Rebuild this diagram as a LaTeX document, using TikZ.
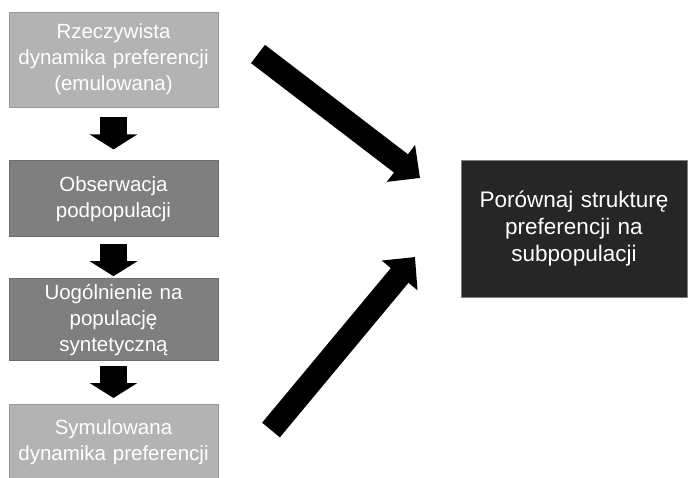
\documentclass[tikz,border=0pt]{standalone}
\usepackage{fontspec}
\setmainfont{Liberation Sans}
\usetikzlibrary{arrows.meta, positioning}
\definecolor{lightgr}{HTML}{B3B3B3}
\definecolor{midgr}{HTML}{7F7F7F}
\definecolor{darkgr}{HTML}{262626}

\begin{document}
\begin{tikzpicture}[x=1pt, y=-1pt,
        block/.style={rectangle, draw, align=center, text=white, inner sep=0pt, line width=0.8pt,
            font=\fontsize{20.5}{26}\selectfont},
        lightblock/.style={block, fill=lightgr, draw=lightgr!85!black, minimum width=209pt, text width=205pt},
        darkblock/.style={block, fill=midgr, draw=midgr!85!black, minimum width=209pt, text width=205pt},
        resblock/.style={block, fill=darkgr, draw=midgr, minimum width=226pt, minimum height=137pt, text width=222pt,
            font=\fontsize{22.5}{27}\selectfont},
        arrow/.style={line width=27pt, -{Triangle[width=47pt, length=15pt]}},
        bigarrow/.style={line width=23pt, -{Triangle[width=45pt, length=24pt]}}]

        \useasboundingbox (0,0) rectangle (688,478);

        % Left column
        \node[lightblock, minimum height=95pt] (real) at (113.5,59.5) {Rzeczywista\\dynamika preferencji\\(emulowana)};
        \node[darkblock, minimum height=76pt, below=53pt of real] (observe) {Obserwacja\\podpopulacji};
        \node[darkblock, minimum height=82pt, below=41pt of observe] (general) {Uogólnienie na\\populację\\syntetyczną};
        \node[lightblock, minimum height=75pt, below=43pt of general] (simul) {Symulowana\\dynamika preferencji};

        % Comparison
        \node[resblock] (compare) at (574,228.5) {Porównaj strukturę\\preferencji na\\subpopulacji};

        % Ends of the big arrows
        \coordinate (realtail) at (258,54);
        \coordinate (realtip) at (420,178);
        \coordinate (simtail) at (271,430);
        \coordinate (simtip) at (415,257);

        % Arrows
        \draw[arrow, shorten <=10pt, shorten >=11pt] (real) -- (observe);
        \draw[arrow, shorten <=7pt, shorten >=2pt] (observe) -- (general);
        \draw[arrow, shorten <=5pt, shorten >=6pt] (general) -- (simul);

        \draw[bigarrow] (realtail) -- (realtip);
        \draw[bigarrow] (simtail) -- (simtip);

    \end{tikzpicture}
\end{document}
